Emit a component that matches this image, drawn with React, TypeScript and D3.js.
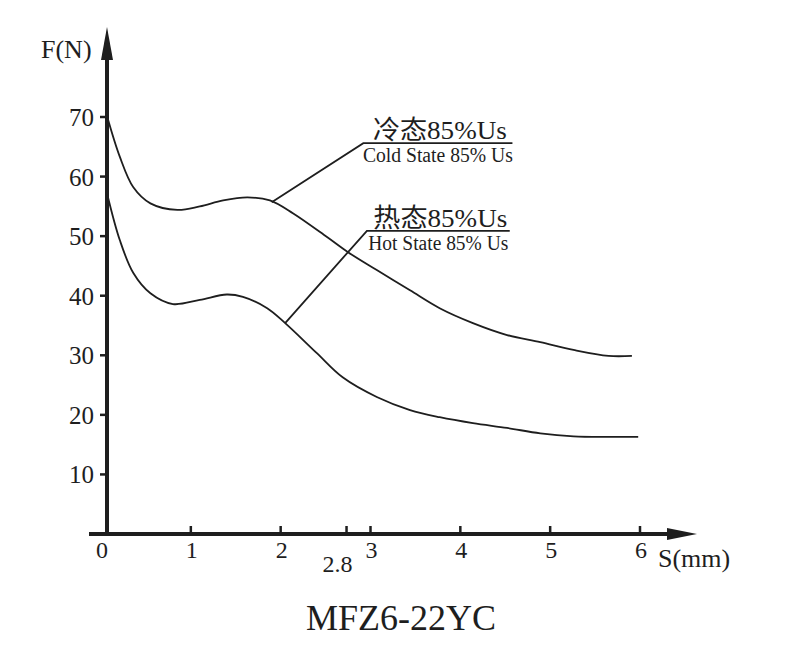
import React, { useRef, useEffect } from 'react';
import * as d3 from 'd3';

// S (mm) / F (N) pairs
const coldCurve: [number, number][] = [
    [0.07, 70.0], [0.21, 63.3], [0.36, 58.2], [0.55, 55.5], [0.85, 54.4],
    [1.10, 55.0], [1.36, 56.0], [1.63, 56.5], [1.88, 56.0], [2.14, 53.8],
    [2.52, 49.8], [2.75, 47.3], [3.07, 44.3], [3.44, 40.9], [3.77, 37.9],
    [4.14, 35.4], [4.52, 33.4], [4.89, 32.2], [5.26, 30.9], [5.65, 29.9],
    [5.91, 29.9],
];

const hotCurve: [number, number][] = [
    [0.07, 57.0], [0.21, 49.3], [0.36, 43.8], [0.55, 40.4], [0.80, 38.6],
    [1.10, 39.3], [1.40, 40.2], [1.58, 39.8], [1.85, 37.9], [2.05, 35.4],
    [2.40, 30.4], [2.69, 26.3], [3.07, 23.0], [3.44, 20.8], [3.77, 19.6],
    [4.14, 18.6], [4.52, 17.8], [4.89, 16.9], [5.26, 16.4], [5.65, 16.3],
    [5.98, 16.3],
];

const xTicks = [0, 1, 2, 2.8, 3, 4, 5, 6];
const yTicks = [10, 20, 30, 40, 50, 60, 70];

// leader lines: point on curve, elbow, end of underline (S, F)
const coldLeader: [number, number][] = [[1.90, 55.7], [2.92, 65.6], [4.58, 65.6]];
const hotLeader: [number, number][] = [[2.05, 35.4], [2.96, 50.9], [4.55, 50.9]];

const coldLabels = ['冷态85%Us', 'Cold State 85% Us'];
const hotLabels = ['热态85%Us', 'Hot State 85% Us'];

const title = 'MFZ6-22YC';

const App: React.FC = () => {
    const svgRef = useRef<SVGSVGElement | null>(null);

    useEffect(() => {
        if (!svgRef.current) return;

        const width = 800;
        const height = 668;
        const ink = '#1e1e1e';
        const serif = '"Liberation Serif", "Times New Roman", "Noto Sans CJK SC", serif';

        const x = d3.scaleLinear().domain([0, 6]).range([101, 640]);
        const y = d3.scaleLinear().domain([0, 70]).range([534, 117]);

        const axisX = 107; // the vertical axis sits a little right of the "0"
        const axisY = y(0);
        // the 2.8 mark is drawn a bit left of where a linear scale puts it
        const tickX = (d: number) => (d === 2.8 ? x(d) - 6 : x(d));

        const svg = d3.select(svgRef.current);
        svg.selectAll('*').remove();
        svg.attr('width', width)
            .attr('height', height)
            .attr('viewBox', [0, 0, width, height])
            .style('font-family', serif);

        svg.append('rect').attr('width', width).attr('height', height).attr('fill', '#fff');

        // axes
        svg.append('line')
            .attr('x1', 89).attr('x2', 670)
            .attr('y1', axisY).attr('y2', axisY)
            .attr('stroke', ink).attr('stroke-width', 4);
        svg.append('path')
            .attr('d', `M697,${axisY} L667,${axisY - 6} L667,${axisY + 6} Z`)
            .attr('fill', ink);

        svg.append('line')
            .attr('x1', axisX).attr('x2', axisX)
            .attr('y1', axisY + 2).attr('y2', 55)
            .attr('stroke', ink).attr('stroke-width', 4);
        svg.append('path')
            .attr('d', `M${axisX},27 L${axisX - 6},60 L${axisX + 6},60 Z`)
            .attr('fill', ink);

        // x ticks
        const xt = svg.append('g');
        xt.selectAll('line')
            .data(xTicks.filter(d => d > 0))
            .join('line')
            .attr('x1', d => tickX(d)).attr('x2', d => tickX(d))
            .attr('y1', axisY).attr('y2', axisY - 8)
            .attr('stroke', ink).attr('stroke-width', 2.5);
        xt.selectAll('text')
            .data(xTicks)
            .join('text')
            .attr('x', d => (d === 2.8 ? tickX(d) - 9 : x(d) + 1))
            .attr('y', d => (d === 2.8 ? 572 : 558))
            .attr('text-anchor', 'middle')
            .attr('font-size', 24)
            .attr('fill', ink)
            .text(d => String(d));

        // y ticks
        const yt = svg.append('g');
        yt.selectAll('line')
            .data(yTicks)
            .join('line')
            .attr('x1', axisX - 7).attr('x2', axisX)
            .attr('y1', d => y(d)).attr('y2', d => y(d))
            .attr('stroke', ink).attr('stroke-width', 2.5);
        yt.selectAll('text')
            .data(yTicks)
            .join('text')
            .attr('x', 94)
            .attr('y', d => y(d) + 9)
            .attr('text-anchor', 'end')
            .attr('font-size', 25)
            .attr('fill', ink)
            .text(d => String(d));

        // axis titles
        svg.append('text')
            .attr('x', 41).attr('y', 58)
            .attr('font-size', 26).attr('fill', ink)
            .text('F(N)');
        svg.append('text')
            .attr('x', 658).attr('y', 567)
            .attr('font-size', 26).attr('fill', ink)
            .text('S(mm)');

        // curves
        const line = d3.line<[number, number]>()
            .x(d => x(d[0]))
            .y(d => y(d[1]))
            .curve(d3.curveCatmullRom.alpha(0.5));

        svg.append('g')
            .selectAll('path')
            .data([coldCurve, hotCurve])
            .join('path')
            .attr('d', d => line(d))
            .attr('fill', 'none')
            .attr('stroke', ink)
            .attr('stroke-width', 1.8);

        // leaders + labels
        const leader = d3.line<[number, number]>()
            .x(d => x(d[0]))
            .y(d => y(d[1]));

        const notes = [
            { pts: coldLeader, labels: coldLabels, w: 150 },
            { pts: hotLeader, labels: hotLabels, w: 140 },
        ];

        notes.forEach(n => {
            svg.append('path')
                .attr('d', leader(n.pts))
                .attr('fill', 'none')
                .attr('stroke', ink)
                .attr('stroke-width', 1.8);
            const cx = (x(n.pts[1][0]) + x(n.pts[2][0])) / 2;
            const uy = y(n.pts[1][1]);
            svg.append('text')
                .attr('x', cx + 2).attr('y', uy - 4)
                .attr('text-anchor', 'middle')
                .attr('font-size', 26).attr('fill', ink)
                .attr('textLength', 134)
                .attr('lengthAdjust', 'spacingAndGlyphs')
                .text(n.labels[0]);
            svg.append('text')
                .attr('x', cx).attr('y', uy + 19)
                .attr('text-anchor', 'middle')
                .attr('font-size', 20).attr('fill', ink)
                .attr('textLength', n.w)
                .attr('lengthAdjust', 'spacingAndGlyphs')
                .text(n.labels[1]);
        });

        svg.append('text')
            .attr('x', 401).attr('y', 630)
            .attr('text-anchor', 'middle')
            .attr('font-size', 36).attr('fill', ink)
            .text(title);
    }, []);

    return (
        <svg
            ref={svgRef}
            width="800"
            height="668"
            style={{ position: 'absolute', left: 0, top: 0, display: 'block' }}
        />
    );
};

export default App;
